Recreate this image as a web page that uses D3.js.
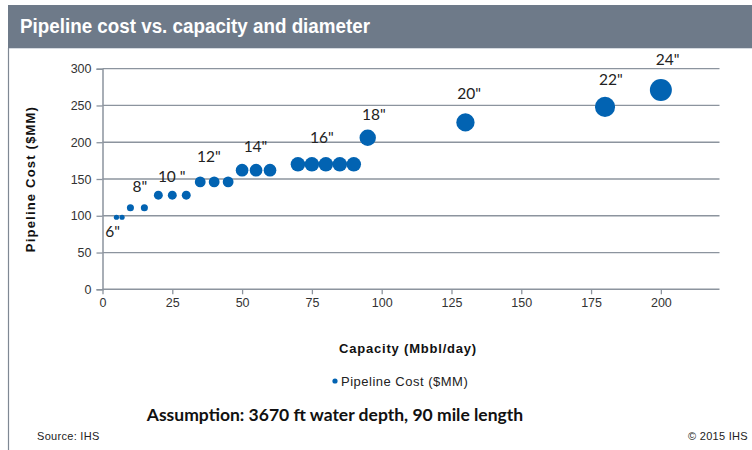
<!DOCTYPE html>
<html><head><meta charset="utf-8">
<script src="https://cdn.jsdelivr.net/npm/d3@7"></script>
<style>body{margin:0;background:#fff;}svg{display:block;}</style>
</head><body>
<svg id="chart" width="752" height="450"></svg>
<script>
// Data
const capacity = [5, 7, 10, 15, 20, 25, 30, 35, 40, 45, 50, 55, 60, 70, 75, 80, 85, 90, 95, 130, 180, 200];
const cost =     [98, 98, 111, 111, 128, 128, 128, 146, 146, 146, 162, 162, 162, 170, 170, 170, 170, 170, 206, 227, 248, 271];
const diameter = [6, 6, 8, 8, 10, 10, 10, 12, 12, 12, 14, 14, 14, 16, 16, 16, 16, 16, 18, 20, 22, 24];
const labelText = ['6"', '8"', '10 "', '12"', '14"', '16"', '18"', '20"', '22"', '24"'];
const labelCapacity = [3.6, 13.4, 24.8, 38.1, 54.8, 78.6, 97.2, 131.3, 182.1, 202.4];
const labelCost = [71.5, 132.3, 146.4, 172.7, 187.2, 198.5, 230.3, 258.3, 277.8, 305];
const xTicks = [0, 25, 50, 75, 100, 125, 150, 175, 200];
const yTicks = [0, 50, 100, 150, 200, 250, 300];

const svg = d3.select('#chart');
const gridCol = '#8c949e';

// Header
svg.append('rect').attr('x', 8).attr('y', 5).attr('width', 744).attr('height', 43).attr('fill', '#6e7a89');
svg.append('line').attr('x1', 8).attr('x2', 752).attr('y1', 48.5).attr('y2', 48.5).attr('stroke', '#d5dae0');
svg.append('line').attr('x1', 8.5).attr('x2', 8.5).attr('y1', 48).attr('y2', 450).attr('stroke', '#7f8894').attr('stroke-width', 1.2);
svg.append('text').attr('x', 20).attr('y', 33).text('Pipeline cost vs. capacity and diameter')
  .attr('fill', '#fff').attr('font-family', 'Liberation Sans, Arial')
  .attr('font-weight', 'bold').attr('font-size', 20)
  .attr('textLength', 350).attr('lengthAdjust', 'spacingAndGlyphs');

const x = d3.scaleLinear().domain([0, 221]).range([102.5, 719.5]);
const y = d3.scaleLinear().domain([0, 300]).range([289.3, 68.7]);
const r = d3.scaleLinear().domain([6, 24]).range([2.6, 11]);

// Gridlines
svg.append('g').selectAll('line').data(yTicks.filter(d => d > 0)).join('line')
  .attr('x1', x(0)).attr('x2', x(221)).attr('y1', d => y(d)).attr('y2', d => y(d))
  .attr('stroke', gridCol).attr('stroke-width', 1.3);

// Axes
const fontAx = 'Liberation Sans, Arial, sans-serif';
const yAxis = svg.append('g').attr('transform', `translate(${x(0)},0)`)
  .call(d3.axisLeft(y).tickValues(yTicks).tickSize(6).tickPadding(5));
const xAxis = svg.append('g').attr('transform', `translate(0,${y(0)})`)
  .call(d3.axisBottom(x).tickValues(xTicks).tickSize(5).tickPadding(4));
[xAxis, yAxis].forEach(a => {
  a.select('.domain').attr('stroke', gridCol).attr('stroke-width', 1.5);
  a.selectAll('.tick line').attr('stroke', gridCol).attr('stroke-width', 1.3);
  a.selectAll('.tick text').attr('fill', '#333').attr('font-family', fontAx).attr('font-size', 12.5);
});
xAxis.select('.domain').attr('d', `M${x(0)},0H${x(221)}`);

// Points
svg.append('g').selectAll('circle').data(capacity.map((c, i) => ({c, v: cost[i], d: diameter[i]}))).join('circle')
  .attr('cx', d => x(d.c)).attr('cy', d => y(d.v)).attr('r', d => r(d.d))
  .attr('fill', '#0263b2');

// Diameter labels
svg.append('g').selectAll('text').data(labelText).join('text')
  .attr('x', (d, i) => x(labelCapacity[i])).attr('y', (d, i) => y(labelCost[i]))
  .attr('text-anchor', 'middle').attr('fill', '#222')
  .attr('font-family', 'Lato, Open Sans, sans-serif').attr('font-size', 15.5)
  .text(d => d);

// Axis titles
svg.append('text').attr('transform', `translate(35,${y(150)}) rotate(-90)`).attr('text-anchor', 'middle')
  .attr('font-family', fontAx).attr('font-weight', 'bold').attr('font-size', 13).attr('letter-spacing', 1.2).attr('fill', '#111')
  .text('Pipeline Cost ($MM)');
svg.append('text').attr('x', 408).attr('y', 353).attr('text-anchor', 'middle')
  .attr('font-family', fontAx).attr('font-weight', 'bold').attr('font-size', 13).attr('letter-spacing', 0.8).attr('fill', '#111')
  .text('Capacity (Mbbl/day)');

// Legend
svg.append('circle').attr('cx', 335).attr('cy', 381).attr('r', 2.6).attr('fill', '#0263b2');
svg.append('text').attr('x', 341).attr('y', 385.5).attr('font-family', fontAx).attr('font-size', 13).attr('letter-spacing', 0.5).attr('fill', '#222')
  .text('Pipeline Cost ($MM)');

// Assumption
svg.append('text').attr('x', 335).attr('y', 421).attr('text-anchor', 'middle')
  .attr('font-family', 'Lato, Open Sans, sans-serif').attr('font-weight', 'bold').attr('font-size', 17.5).attr('fill', '#111')
  .text('Assumption:  3670 ft water depth,  90 mile length');

// Footer
svg.append('text').attr('x', 37).attr('y', 440).attr('font-family', fontAx)
  .attr('font-size', 11).attr('letter-spacing', 0.3).attr('fill', '#222').text('Source:  IHS');
svg.append('text').attr('x', 748).attr('y', 440).attr('text-anchor', 'end').attr('font-family', fontAx)
  .attr('font-size', 11).attr('letter-spacing', 0.3).attr('fill', '#222').text('© 2015  IHS');
</script>
</body></html>
